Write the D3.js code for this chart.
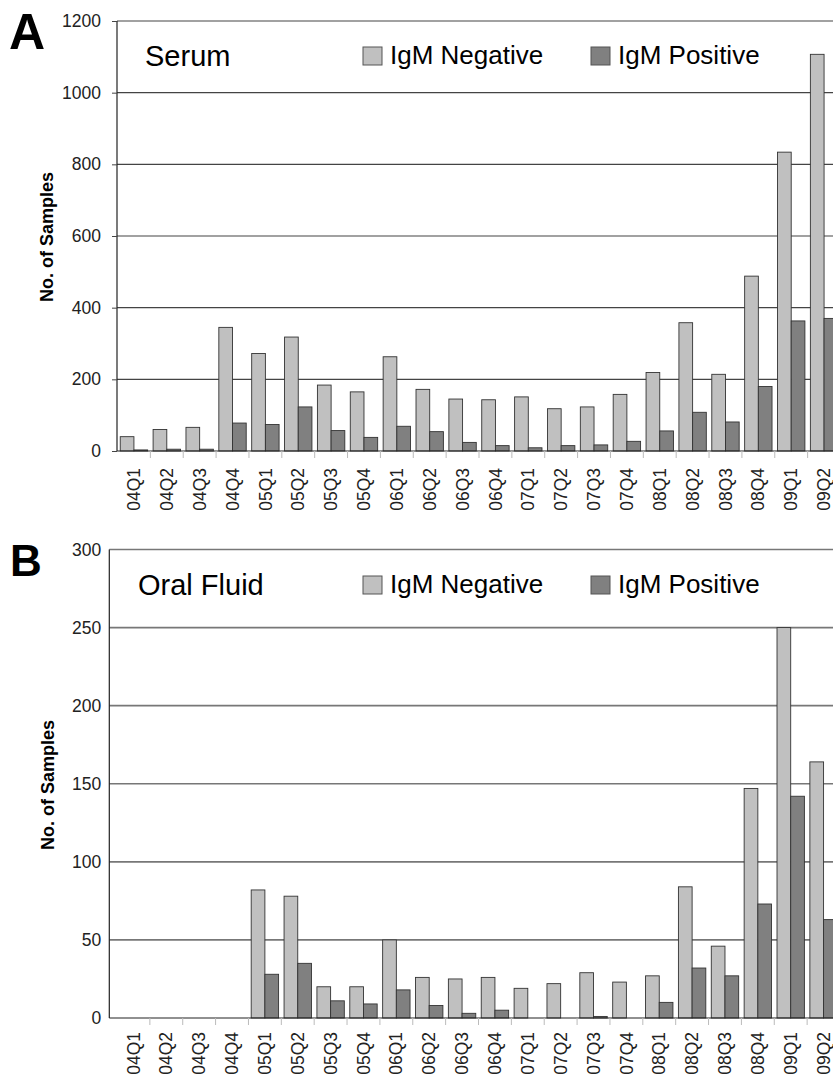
<!DOCTYPE html>
<meta charset="UTF-8">
<style>
body { margin: 0; background: #fff; }
svg { display: block; font-family: "Liberation Sans", Arial, sans-serif; }
.tick text { fill: #222; }
</style>
<body>
<script src="https://cdn.jsdelivr.net/npm/d3@7"></script>
<script>

// quarters on the x axis
var quarters = ["04Q1","04Q2","04Q3","04Q4","05Q1","05Q2","05Q3","05Q4",
                "06Q1","06Q2","06Q3","06Q4","07Q1","07Q2","07Q3","07Q4",
                "08Q1","08Q2","08Q3","08Q4","09Q1","09Q2"];

// panel A - serum
var serumNegative = [40, 60, 66, 345, 272, 318, 184, 165, 263, 172, 145, 143,
                     151, 118, 123, 158, 219, 358, 214, 488, 834, 1107];
var serumPositive = [3, 5, 5, 78, 74, 123, 57, 38, 69, 54, 24, 15,
                     9, 15, 17, 27, 56, 108, 81, 180, 363, 370];
var serumTicks = [0, 200, 400, 600, 800, 1000, 1200];

// panel B - oral fluid
var oralNegative = [0, 0, 0, 0, 82, 78, 20, 20, 50, 26, 25, 26,
                    19, 22, 29, 23, 27, 84, 46, 147, 250, 164];
var oralPositive = [0, 0, 0, 0, 28, 35, 11, 9, 18, 8, 3, 5,
                    0, 0, 1, 0, 10, 32, 27, 73, 142, 63];
var oralTicks = [0, 50, 100, 150, 200, 250, 300];

var seriesNames = ["IgM Negative", "IgM Positive"];
var seriesColors = ["#c0c0c0", "#808080"];

var svg = d3.select("body").append("svg")
    .attr("width", 833)
    .attr("height", 1079);

svg.append("rect").attr("width", 833).attr("height", 1079).attr("fill", "#fff");

// draw one panel
function panel(cfg) {
  var g = svg.append("g");

  var y = d3.scaleLinear()
      .domain([0, d3.max(cfg.ticks)])
      .range([cfg.y0, cfg.yTop]);

  var x = d3.scaleBand()
      .domain(quarters)
      .range([cfg.xStart, cfg.xEnd])
      .padding(0);

  var xs = d3.scaleBand()
      .domain(seriesNames)
      .range([0, x.bandwidth()])
      .paddingInner(0)
      .paddingOuter(0.2);

  // gridlines
  g.selectAll("line.grid")
    .data(cfg.ticks.filter(function(d) { return d > 0; }))
    .enter().append("line")
      .attr("class", "grid")
      .attr("x1", cfg.axisX).attr("x2", 833)
      .attr("y1", function(d) { return y(d); })
      .attr("y2", function(d) { return y(d); })
      .attr("stroke", cfg.gridColor)
      .attr("stroke-width", cfg.gridWidth);

  // bars
  var rows = quarters.map(function(q, i) {
    return { q: q, vals: [cfg.neg[i], cfg.pos[i]] };
  });

  var grp = g.selectAll("g.q")
    .data(rows)
    .enter().append("g")
      .attr("class", "q")
      .attr("transform", function(d) { return "translate(" + x(d.q) + ",0)"; });

  grp.selectAll("rect")
    .data(function(d) {
      return d.vals.map(function(v, k) { return { s: seriesNames[k], v: v, k: k }; });
    })
    .enter().append("rect")
      .filter(function(d) { return d.v > 0; })
      .attr("x", function(d) { return xs(d.s); })
      .attr("width", xs.bandwidth())
      .attr("y", function(d) { return y(d.v); })
      .attr("height", function(d) { return y(0) - y(d.v); })
      .attr("fill", function(d) { return seriesColors[d.k]; })
      .attr("stroke", "#333")
      .attr("stroke-width", 0.9);

  // x axis line and category separators
  g.append("line")
      .attr("x1", cfg.axisX).attr("x2", 833)
      .attr("y1", y(0)).attr("y2", y(0))
      .attr("stroke", "#222").attr("stroke-width", 1.2);

  g.selectAll("line.sep")
    .data(quarters.slice(1))
    .enter().append("line")
      .attr("x1", function(d) { return x(d); })
      .attr("x2", function(d) { return x(d); })
      .attr("y1", y(0)).attr("y2", y(0) + 7)
      .attr("stroke", "#bbb");

  g.selectAll("text.xl")
    .data(quarters)
    .enter().append("text")
      .attr("class", "xl")
      .attr("transform", function(d) {
        return "translate(" + (x(d) + x.bandwidth() / 2) + "," + (y(0) + cfg.labelGap) + ") rotate(-90)";
      })
      .attr("text-anchor", "end")
      .attr("dy", "0.35em")
      .attr("font-size", 17.5)
      .attr("fill", "#222")
      .text(function(d) { return d; });

  // y axis
  var ax = g.append("g")
      .attr("transform", "translate(" + cfg.axisX + ",0)")
      .call(d3.axisLeft(y).tickValues(cfg.ticks).tickFormat(d3.format("d"))
              .tickSize(cfg.tickSize).tickPadding(cfg.tickPad));
  ax.select(".domain").attr("stroke", "#222").attr("stroke-width", 1.2)
      .attr("d", "M0," + cfg.yTop + "V" + cfg.y0);
  ax.selectAll(".tick line").attr("stroke", "#444");
  ax.selectAll(".tick text").attr("font-size", 17.5).attr("font-family", null);

  // axis title
  g.append("text")
      .attr("transform", "translate(" + cfg.titleX + "," + cfg.titleY + ") rotate(-90)")
      .attr("text-anchor", "middle")
      .attr("font-size", 18)
      .attr("font-weight", "bold")
      .text("No. of Samples");

  // panel letter
  g.append("text")
      .attr("x", cfg.letterX).attr("y", cfg.letterY)
      .attr("font-size", cfg.letterSize)
      .attr("font-weight", "bold")
      .text(cfg.letter);

  // panel name
  g.append("text")
      .attr("x", cfg.nameX).attr("y", cfg.nameY)
      .attr("font-size", 29)
      .text(cfg.name);

  // legend
  var lx = [363, 591];
  seriesNames.forEach(function(s, k) {
    g.append("rect")
        .attr("x", lx[k]).attr("y", cfg.legY - 16.5)
        .attr("width", 19).attr("height", 18)
        .attr("fill", seriesColors[k])
        .attr("stroke", "#555").attr("stroke-width", 1);
    g.append("text")
        .attr("x", lx[k] + 27).attr("y", cfg.legY)
        .attr("font-size", 26)
        .text(s);
  });
}

panel({
  neg: serumNegative, pos: serumPositive, ticks: serumTicks,
  yTop: 21, y0: 451, xStart: 117.5, xEnd: 840.5, axisX: 117,
  gridColor: "#444", gridWidth: 1.1, tickSize: 5, tickPad: 11, labelGap: 17,
  titleX: 52.5, titleY: 237, letter: "A", letterX: 9, letterY: 49, letterSize: 50,
  name: "Serum", nameX: 145, nameY: 65.5, legY: 63.5
});

panel({
  neg: oralNegative, pos: oralPositive, ticks: oralTicks,
  yTop: 549.5, y0: 1018, xStart: 117, xEnd: 840, axisX: 109.3,
  gridColor: "#777", gridWidth: 1.6, tickSize: 0, tickPad: 8, labelGap: 14,
  titleX: 53.5, titleY: 785, letter: "B", letterX: 10, letterY: 576, letterSize: 44,
  name: "Oral Fluid", nameX: 138, nameY: 595, legY: 592.5
});

</script>
</body>
